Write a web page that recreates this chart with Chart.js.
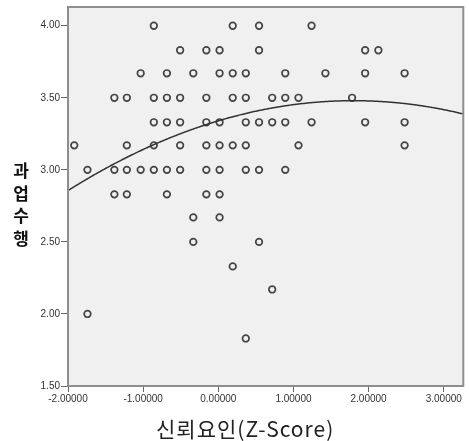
<!DOCTYPE html>
<html>
<head>
<meta charset="utf-8">
<script src="https://cdn.jsdelivr.net/npm/chart.js@4/dist/chart.umd.min.js"></script>
<style>
  html, body { margin:0; padding:0; background:#fff; }
  #wrap { position:relative; width:469px; height:441px; }
  #ytitle { position:absolute; left:10px; top:159px; width:22px; text-align:center;
            font:bold 17px "Noto Sans CJK KR"; line-height:22.5px; color:#111; }
  #xtitle { position:absolute; left:156px; top:415px; white-space:nowrap;
            font:21px "Noto Sans CJK KR"; letter-spacing:1px; line-height:27px; color:#222; }
</style>
</head>
<body>
<div id="wrap">
  <canvas id="scatter" width="469" height="441"></canvas>
  <div id="ytitle">과<br>업<br>수<br>행</div>
  <div id="xtitle">신뢰요인(Z-Score)</div>
</div>
<script>
// z-score columns
const zCols = {
  A:-1.917, B:-1.741, C:-1.383, D:-1.217, E:-1.033, F:-0.858, G:-0.684, H:-0.508,
  I:-0.333, J:-0.159, K:0.017, L:0.192, M:0.366, N:0.542, O:0.717, P:0.891,
  Q:1.067, R:1.241, S:1.425, T:1.780, U:1.954, V:2.130, W:2.479
};

// 과업수행 levels and which columns hold a point at each level
const levels = [4.00, 3.83, 3.67, 3.50, 3.33, 3.17, 3.00, 2.83, 2.67, 2.50, 2.33, 2.17, 2.00, 1.83];
const rowCols = [
  "FLNR",
  "HJKNUV",
  "EGIKLMPSUW",
  "CDFGHJLMOPQT",
  "FGHJKMNOPRUW",
  "ADFHJKLMQW",
  "BCDEFGHJKMNP",
  "CDGJK",
  "IK",
  "IN",
  "L",
  "O",
  "B",
  "M"
];

// quadratic fit line: y = c0 + c1*x + c2*x^2
const fitCoef = [3.34, 0.1555, -0.0432];

const xTicks = [-2, -1, 0, 1, 2, 3];
const yTicks = [1.5, 2.0, 2.5, 3.0, 3.5, 4.0];

const points = [];
levels.forEach((lv, i) => {
  for (const c of rowCols[i]) points.push({x: zCols[c], y: lv});
});

const frame = {
  id: "frame",
  beforeDatasetsDraw(chart) {
    const {ctx, chartArea:a} = chart;
    ctx.save();
    ctx.fillStyle = "#f0f0f0";
    ctx.fillRect(a.left, a.top, a.right - a.left, a.bottom - a.top);
    ctx.restore();
  },
  afterDraw(chart) {
    const {ctx, chartArea:a} = chart;
    ctx.save();
    ctx.strokeStyle = "#8e8e8e";
    ctx.lineWidth = 2;
    ctx.strokeRect(a.left, a.top, a.right - a.left, a.bottom - a.top);
    ctx.restore();
  }
};

const fitLine = {
  id: "fitLine",
  afterDatasetsDraw(chart) {
    const {ctx, chartArea:a, scales} = chart;
    ctx.save();
    ctx.beginPath();
    ctx.rect(a.left, a.top, a.right - a.left, a.bottom - a.top);
    ctx.clip();
    ctx.beginPath();
    for (let px = a.left; px <= a.right; px++) {
      const x = scales.x.getValueForPixel(px);
      const y = fitCoef[0] + fitCoef[1]*x + fitCoef[2]*x*x;
      const py = scales.y.getPixelForValue(y);
      if (px === a.left) ctx.moveTo(px, py); else ctx.lineTo(px, py);
    }
    ctx.strokeStyle = "#333";
    ctx.lineWidth = 1.5;
    ctx.stroke();
    ctx.restore();
  }
};

new Chart(document.getElementById("scatter"), {
  type: "scatter",
  data: {
    datasets: [{
      data: points,
      pointRadius: 3.3,
      pointBorderWidth: 1.7,
      pointBorderColor: "#444",
      pointBackgroundColor: "rgba(0,0,0,0)"
    }]
  },
  options: {
    responsive: false,
    animation: false,
    layout: {padding: {top: 7, right: 1, left: 0, bottom: 0}},
    plugins: {legend: {display: false}, tooltip: {enabled: false}},
    scales: {
      x: {
        type: "linear", min: -2, max: 3.26,
        afterBuildTicks: s => { s.ticks = xTicks.map(v => ({value: v})); },
        afterFit: s => { s.height = 55; },
        ticks: {callback: v => v.toFixed(5), font: {family: "Liberation Sans", size: 10}, color: "#333", padding: 1, maxRotation: 0},
        grid: {drawOnChartArea: false, tickLength: 6, color: "#666", tickWidth: 1},
        border: {display: false}
      },
      y: {
        type: "linear", min: 1.5, max: 4.13,
        afterBuildTicks: s => { s.ticks = yTicks.map(v => ({value: v})); },
        afterFit: s => { s.width = 68; },
        ticks: {callback: v => v.toFixed(2), font: {family: "Liberation Sans", size: 10}, color: "#333", padding: 1},
        grid: {drawOnChartArea: false, tickLength: 7, color: "#666", tickWidth: 1},
        border: {display: false}
      }
    }
  },
  plugins: [frame, fitLine]
});
</script>
</body>
</html>
